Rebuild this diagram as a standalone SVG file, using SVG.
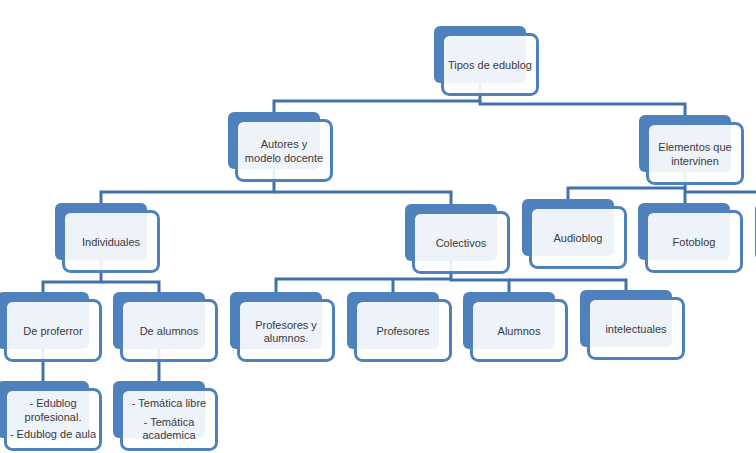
<svg xmlns="http://www.w3.org/2000/svg" width="756" height="453" viewBox="0 0 756 453">
<style>
.back{fill:#4F81BD}
.front{fill:#ffffff;fill-opacity:0.9;stroke:#4F81BD;stroke-width:3}
.lbl{font-family:"Liberation Sans",Arial,sans-serif;font-size:11px;fill:#3a3a3a;text-anchor:middle}
.con{fill:none;stroke:#4272AB;stroke-width:3;stroke-linejoin:miter}
</style>
<defs>
<g id="shape">
<rect class="back" x="0" y="0" width="92" height="57" rx="6"/>
<rect class="front" x="8.5" y="8.5" width="95" height="60" rx="7"/>
</g>
</defs>
<rect width="756" height="453" fill="#ffffff"/>
<g id="connectors">
<path class="con" d="M480,83 V101 H274 V112"/>
<path class="con" d="M480,101 V104 H685 V115"/>
<path class="con" d="M274,169 V192 H101 V203"/>
<path class="con" d="M274,192 H451 V204"/>
<path class="con" d="M101,260 V282 H43 V292"/>
<path class="con" d="M101,282 H159 V292"/>
<path class="con" d="M451,261 V279 H276 V292"/>
<path class="con" d="M393,279 V292"/>
<path class="con" d="M451,279 V280 H509 V292"/>
<path class="con" d="M509,280 H626 V290"/>
<path class="con" d="M685,172 V188 H568 V199"/>
<path class="con" d="M685,188 V203"/>
<path class="con" d="M685,192 H760"/>
<path class="con" d="M43,349 V381"/>
<path class="con" d="M159,349 V381"/>
</g>
<g id="n-tipos" transform="translate(434,26)"><use href="#shape"/><text class="lbl" x="56" y="42.5">Tipos de edublog</text></g>
<g id="n-autores" transform="translate(228,112)"><use href="#shape"/><text class="lbl" x="56" y="35.5">Autores y</text><text class="lbl" x="56" y="49.5">modelo docente</text></g>
<g id="n-elementos" transform="translate(639,115)"><use href="#shape"/><text class="lbl" x="56" y="35.5">Elementos que</text><text class="lbl" x="56" y="49.5">intervinen</text></g>
<g id="n-individuales" transform="translate(55,203)"><use href="#shape"/><text class="lbl" x="56" y="42.5">Individuales</text></g>
<g id="n-colectivos" transform="translate(405,204)"><use href="#shape"/><text class="lbl" x="56" y="42.5">Colectivos</text></g>
<g id="n-audioblog" transform="translate(522,199)"><use href="#shape"/><text class="lbl" x="56" y="42.5">Audioblog</text></g>
<g id="n-fotoblog" transform="translate(638,203)"><use href="#shape"/><text class="lbl" x="56" y="42.5">Fotoblog</text></g>
<g id="n-edge" transform="translate(755,203)"><use href="#shape"/></g>
<g id="n-deprofe" transform="translate(-3,292)"><use href="#shape"/><text class="lbl" x="56" y="42.5">De proferror</text></g>
<g id="n-dealumnos" transform="translate(113,292)"><use href="#shape"/><text class="lbl" x="56" y="42.5">De alumnos</text></g>
<g id="n-profalum" transform="translate(230,292)"><use href="#shape"/><text class="lbl" x="56" y="36.5">Profesores y</text><text class="lbl" x="56" y="50">alumnos.</text></g>
<g id="n-profesores" transform="translate(347,292)"><use href="#shape"/><text class="lbl" x="56" y="42.5">Profesores</text></g>
<g id="n-alumnos" transform="translate(463,292)"><use href="#shape"/><text class="lbl" x="56" y="42.5">Alumnos</text></g>
<g id="n-intelectuales" transform="translate(580,290)"><use href="#shape"/><text class="lbl" x="56" y="42.5">intelectuales</text></g>
<g id="n-edublog" transform="translate(-3,381)"><use href="#shape"/><text class="lbl" x="56" y="26">- Edublog</text><text class="lbl" x="56" y="40">profesional.</text><text class="lbl" x="56" y="57">- Edublog de aula</text></g>
<g id="n-tematica" transform="translate(113,381)"><use href="#shape"/><text class="lbl" x="56" y="26">- Temática libre</text><text class="lbl" x="56" y="45">- Temática</text><text class="lbl" x="56" y="58">academica</text></g>
</svg>
